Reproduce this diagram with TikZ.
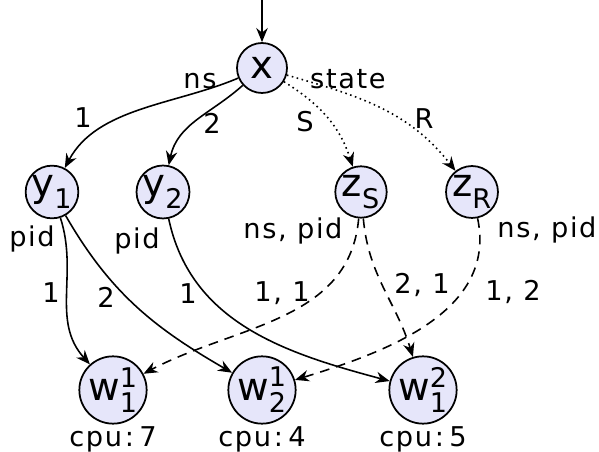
\documentclass[tikz,border=0pt]{standalone}
\usepackage{fontspec}
\setmainfont{DejaVu Sans}[LetterSpace=6]
\usepackage{amsmath}
\usetikzlibrary{arrows.meta, positioning}
\definecolor{vfill}{RGB}{230,230,250}
\newcommand{\vlab}[3]{#1$_{\text{#2}}^{\text{#3}}$}

\begin{document}
\begin{tikzpicture}[
            x=0.02cm, y=0.02cm,
            node distance=0pt,
            vnode/.style ={circle, draw=black, fill=vfill, line width=1pt,
                           inner sep=0pt, minimum size=1cm,
                           font=\fontsize{22}{24}\selectfont},
            wnode/.style ={vnode, minimum size=1.28cm},
            lbl/.style   ={inner sep=1pt, font=\fontsize{15.5}{18}\selectfont},
            arrow/.style ={-{Stealth[length=8pt, width=6.5pt]}, line width=0.9pt},
            pick/.style  ={arrow, dotted},
            alt/.style   ={arrow, dash pattern=on 5.5pt off 4pt}
        ]
        \useasboundingbox (0,0) rectangle (599,-452);

        \coordinate (entry) at (262,0);
        \node[vnode] (x)   at (262,-68)  {x};
        \node[vnode] (y1)  at (52,-192)  {\vlab{y}{1}{}};
        \node[vnode] (y2)  at (163,-192) {\vlab{y}{2}{}};
        \node[vnode] (zS)  at (361,-192) {\vlab{z}{S}{}};
        \node[vnode] (zR)  at (472,-192) {\vlab{z}{R}{}};
        \node[wnode] (w11) at (113,-390) {\vlab{w}{1}{1}};
        \node[wnode] (w21) at (262,-390) {\vlab{w}{2}{1}};
        \node[wnode] (w12) at (423,-390) {\vlab{w}{1}{2}};

        \node[lbl, below=of w11] (cpu11) {cpu\hspace{1.5pt}:\hspace{3pt}7};
        \node[lbl, below=of w21] (cpu21) {cpu\hspace{1.5pt}:\hspace{3pt}4};
        \node[lbl, below=of w12] (cpu12) {cpu\hspace{1.5pt}:\hspace{3pt}5};

        \node[lbl] (nsx)    at (200,-81)  {ns};
        \node[lbl] (statex) at (348,-79)  {state};
        \node[lbl] (piday)  at (32,-239)  {pid};
        \node[lbl] (pidby)  at (137,-241) {pid};
        \node[lbl] (nspS)   at (293,-231) {ns, pid};
        \node[lbl] (nspR)   at (547,-230) {ns, pid};

        \draw[arrow] (entry) -- (x);
        \draw[arrow] (x) to[out=203, in=62, looseness=0.9] (y1);
        \draw[arrow] (x) to[out=222, in=78] (y2);
        \draw[pick]  (x) to[out=-32, in=108] (zS);
        \draw[pick]  (x) to[out=-16, in=128] (zR);
        \node[lbl] (l1)  at (83,-118)  {1};
        \node[lbl] (l2)  at (212,-123) {2};
        \node[lbl] (lS)  at (305,-122) {S};
        \node[lbl] (lR)  at (424,-119) {R};

        \draw[arrow] (y1) to[out=-72, in=132] (w11);
        \draw[arrow] (y1) to[out=-60, in=150] (w21);
        \draw[arrow] (y2) to[out=-78, in=165] (w12);
        \draw[alt]   (zS) to[out=-95, in=28] (w11);
        \draw[alt]   (zS) to[out=-85, in=107] (w12);
        \draw[alt]   (zR) to[out=-78, in=17] (w21);

        \node[lbl] (la) at (51,-293)  {1};
        \node[lbl] (lb) at (106,-297) {2};
        \node[lbl] (lc) at (188,-294) {1};
        \node[lbl] (ld) at (282,-293) {1, 1};
        \node[lbl] (le) at (422,-285) {2, 1};
        \node[lbl] (lf) at (513,-292) {1, 2};
        \end{tikzpicture}
\end{document}
